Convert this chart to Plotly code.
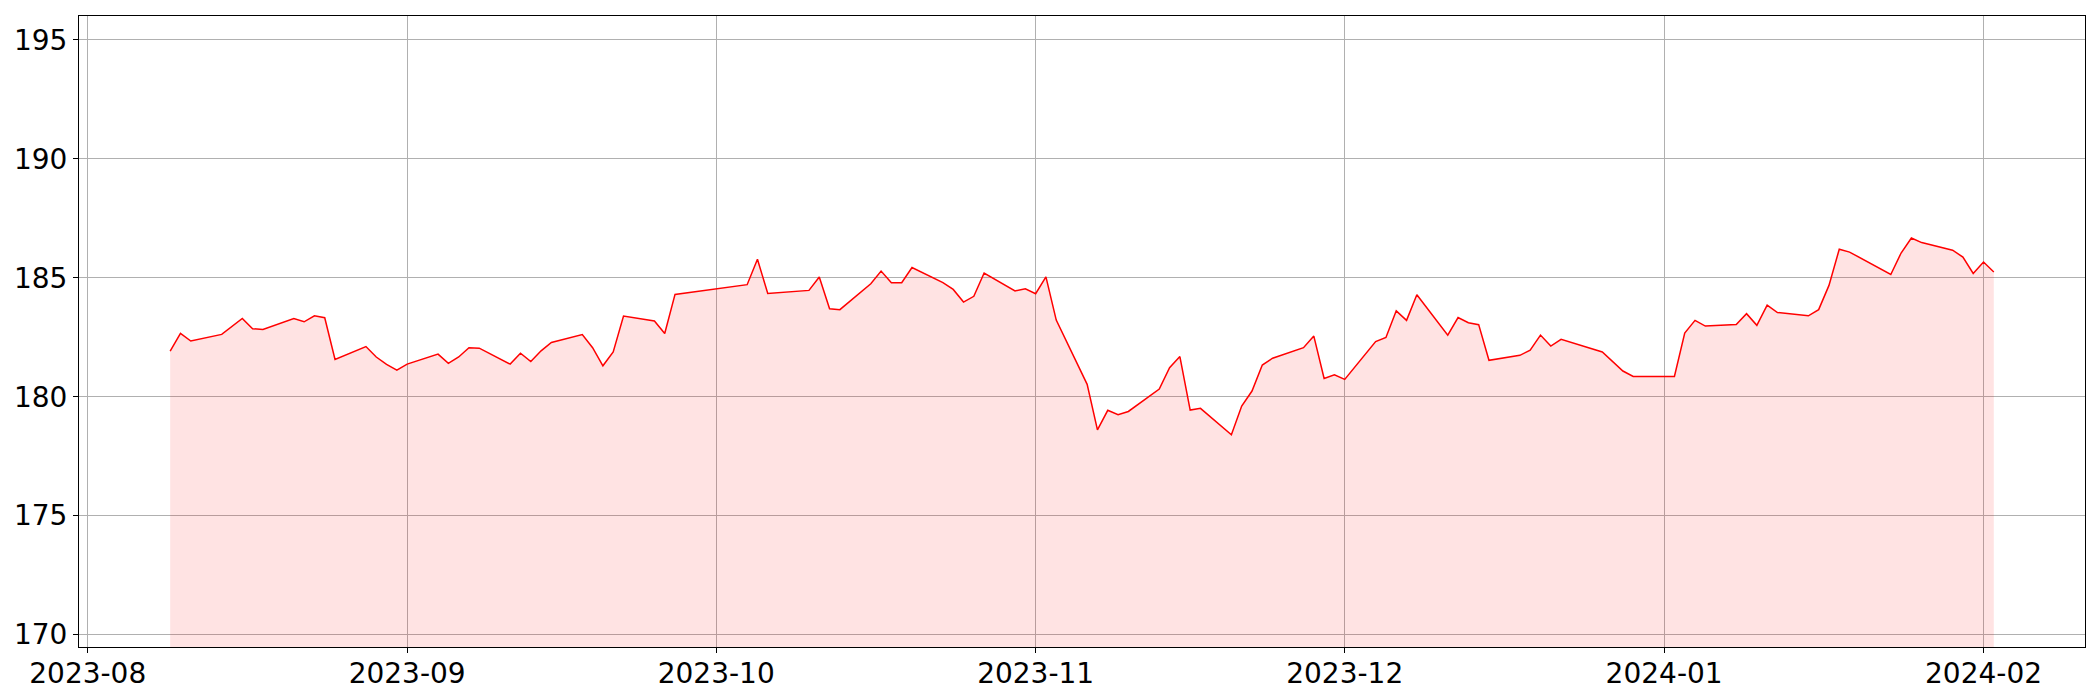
import plotly.graph_objects as go
import pandas as pd

dates = [
    "2023-08-09", "2023-08-10", "2023-08-11", "2023-08-14", "2023-08-16", "2023-08-17",
    "2023-08-18", "2023-08-21", "2023-08-22", "2023-08-23", "2023-08-24", "2023-08-25",
    "2023-08-28", "2023-08-29", "2023-08-30", "2023-08-31",
    "2023-09-01", "2023-09-04", "2023-09-05", "2023-09-06", "2023-09-07", "2023-09-08",
    "2023-09-11", "2023-09-12", "2023-09-13", "2023-09-14", "2023-09-15", "2023-09-18",
    "2023-09-19", "2023-09-20", "2023-09-21", "2023-09-22", "2023-09-25", "2023-09-26",
    "2023-09-27",
    "2023-10-04", "2023-10-05", "2023-10-06", "2023-10-10", "2023-10-11", "2023-10-12",
    "2023-10-13", "2023-10-16", "2023-10-17", "2023-10-18", "2023-10-19", "2023-10-20",
    "2023-10-23", "2023-10-24", "2023-10-25", "2023-10-26", "2023-10-27", "2023-10-30",
    "2023-10-31",
    "2023-11-01", "2023-11-02", "2023-11-03", "2023-11-06", "2023-11-07", "2023-11-08",
    "2023-11-09", "2023-11-10", "2023-11-13", "2023-11-14", "2023-11-15", "2023-11-16",
    "2023-11-17", "2023-11-20", "2023-11-21", "2023-11-22", "2023-11-23", "2023-11-24",
    "2023-11-27", "2023-11-28", "2023-11-29", "2023-11-30",
    "2023-12-01", "2023-12-04", "2023-12-05", "2023-12-06", "2023-12-07", "2023-12-08",
    "2023-12-11", "2023-12-12", "2023-12-13", "2023-12-14", "2023-12-15", "2023-12-18",
    "2023-12-19", "2023-12-20", "2023-12-21", "2023-12-22", "2023-12-26", "2023-12-28",
    "2023-12-29",
    "2024-01-02", "2024-01-03", "2024-01-04", "2024-01-05", "2024-01-08", "2024-01-09",
    "2024-01-10", "2024-01-11", "2024-01-12", "2024-01-15", "2024-01-16", "2024-01-17",
    "2024-01-18", "2024-01-19", "2024-01-23", "2024-01-24", "2024-01-25", "2024-01-26",
    "2024-01-29", "2024-01-30", "2024-01-31", "2024-02-01", "2024-02-02",
]

prices = [
    181.92, 182.66, 182.34, 182.62, 183.29, 182.86,
    182.83, 183.29, 183.15, 183.40, 183.32, 181.57,
    182.11, 181.67, 181.36, 181.12,
    181.37, 181.79, 181.40, 181.67, 182.06, 182.04,
    181.37, 181.83, 181.48, 181.93, 182.28, 182.61,
    182.06, 181.30, 181.88, 183.39, 183.18, 182.66,
    184.30,
    184.71, 185.78, 184.34, 184.47, 185.03, 183.70,
    183.66, 184.75, 185.28, 184.79, 184.79, 185.43,
    184.80, 184.51, 183.98, 184.22, 185.20, 184.45,
    184.54,
    184.33, 185.04, 183.22, 180.52, 178.61, 179.43,
    179.24, 179.38, 180.32, 181.22, 181.69, 179.44,
    179.51, 178.40, 179.61, 180.24, 181.33, 181.62,
    182.06, 182.55, 180.77, 180.92,
    180.73, 182.32, 182.49, 183.61, 183.21, 184.29,
    182.59, 183.33, 183.11, 183.03, 181.53, 181.74,
    181.96, 182.59, 182.13, 182.41, 181.88, 181.08,
    180.85,
    180.85, 182.68, 183.21, 182.97, 183.04, 183.49,
    183.00, 183.85, 183.54, 183.40, 183.66, 184.68,
    186.20, 186.08, 185.14, 186.04, 186.67, 186.48,
    186.16, 185.87, 185.18, 185.66, 185.24,
]

y_ticks = [170, 175, 180, 185, 190, 195]

x = pd.to_datetime(dates)
span = x.max() - x.min()
x_range = [x.min() - 0.05 * span, x.max() + 0.05 * span]
y_range = [min(prices) * 0.95, max(prices) * 1.05]

fig = go.Figure()
fig.add_trace(go.Scatter(
    x=x, y=prices, mode="lines",
    line=dict(color="red", width=1.5),
    fill="tozeroy", fillcolor="rgba(255,0,0,0.11)",
    showlegend=False,
))

axis_common = dict(
    showline=True, linecolor="black", linewidth=1.1, mirror=True,
    showgrid=True, gridcolor="#b0b0b0", gridwidth=1.1,
    ticks="outside", ticklen=5, tickwidth=1.1, tickcolor="black",
    tickfont=dict(family="DejaVu Sans", size=28, color="black"),
    zeroline=False, automargin=False,
)

fig.update_xaxes(
    type="date", range=[x_range[0].isoformat(), x_range[1].isoformat()],
    tick0="2023-08-01", dtick="M1", tickformat="%Y-%m",
    ticklabelstandoff=-4,
    **axis_common,
)
fig.update_yaxes(
    range=y_range, tickvals=y_ticks,
    **axis_common,
)

# the page body adds an 8 px offset; size the figure so the plot area lands where the reference has it
fig.update_layout(
    width=2092, height=692,
    margin=dict(l=71, r=15, t=8, b=53, pad=0),
    paper_bgcolor="white", plot_bgcolor="white",
    font=dict(family="DejaVu Sans", size=28, color="black"),
)

fig.write_html("out.html")
